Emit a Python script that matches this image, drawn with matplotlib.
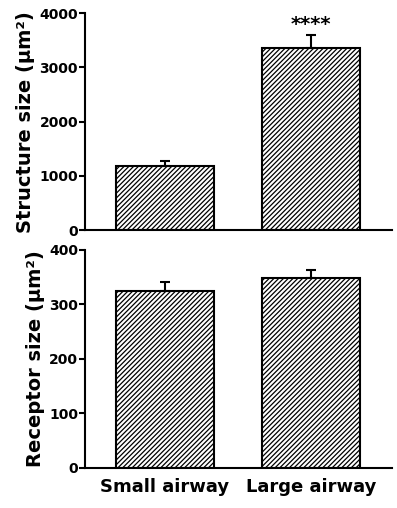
import matplotlib
matplotlib.use("Agg")
import matplotlib.pyplot as plt
import numpy as np

plt.rcParams['font.family'] = ['DejaVu Sans']
plt.rcParams['font.weight'] = 'bold'
plt.rcParams['hatch.linewidth'] = 0.9

groups = ['Small airway', 'Large airway']
structure_mean = [1180, 3350]
structure_err = [90, 240]
receptor_mean = [325, 348]
receptor_err = [16, 15]

fig = plt.figure(figsize=(3.97, 5.08), dpi=100)
ax1 = fig.add_axes([0.214, 0.547, 0.773, 0.427])
ax2 = fig.add_axes([0.214, 0.079, 0.773, 0.429])

x = np.arange(len(groups))


def draw(ax, means, errs, ymax, step, label):
    ax.bar(x, means, width=0.67, color='white', edgecolor='black',
           hatch='///////', linewidth=1.5, zorder=2)
    ax.errorbar(x, means, yerr=[np.zeros(len(errs)), errs], fmt='none',
                ecolor='black', elinewidth=1.5, capsize=3.5, capthick=1.5, zorder=3)
    ax.set_xlim(-0.546, 1.55)
    ax.set_ylim(0, ymax)
    ax.set_yticks(np.arange(0, ymax + 1, step))
    ax.spines['top'].set_visible(False)
    ax.spines['right'].set_visible(False)
    ax.spines['left'].set_linewidth(1.5)
    ax.spines['bottom'].set_linewidth(1.5)
    ax.tick_params(axis='y', length=4, width=1.5, labelsize=10, pad=1)
    ax.tick_params(axis='x', length=0)
    ax.set_ylabel(label, fontsize=14, fontweight='bold', labelpad=3)


draw(ax1, structure_mean, structure_err, 4000, 1000, 'Structure size (μm²)')
ax1.set_xticks([])
ax1.text(x[1], structure_mean[1] + structure_err[1] + 20, '****',
         ha='center', va='bottom', fontsize=14, fontweight='bold')

draw(ax2, receptor_mean, receptor_err, 400, 100, 'Receptor size (μm²)')
ax2.set_xticks(x)
ax2.set_xticklabels(groups, fontsize=13, fontweight='bold')
ax2.tick_params(axis='x', pad=7)

fig.savefig('out.png', dpi=100)
